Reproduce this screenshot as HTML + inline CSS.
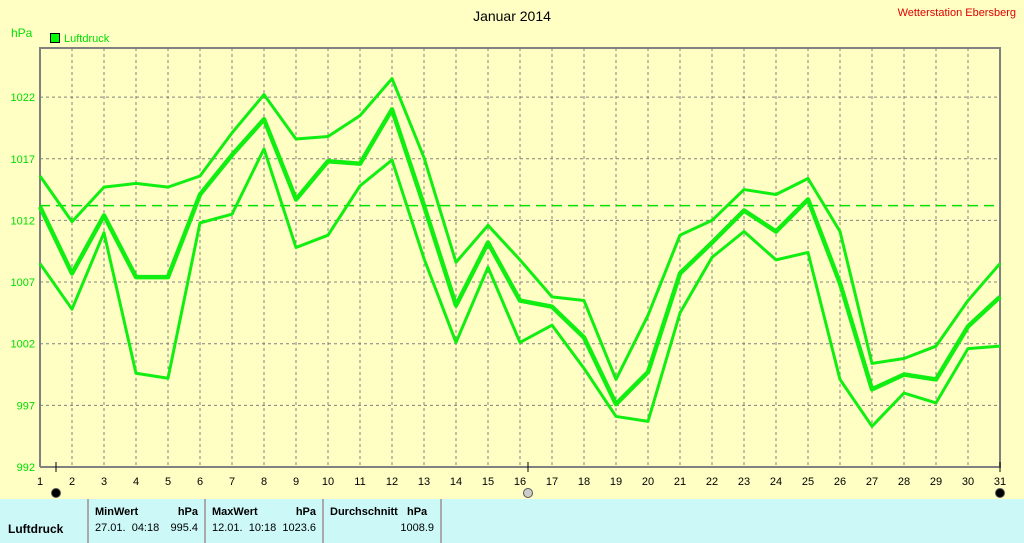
<!DOCTYPE html>
<html><head><meta charset="utf-8"><style>
body{margin:0;width:1024px;height:543px;overflow:hidden;background:#ffffc4;font-family:"Liberation Sans",sans-serif;}
svg{position:absolute;left:0;top:0}
#tbl{position:absolute;left:0;top:499px;width:1024px;height:44px;background:#ccf8f8;font-size:11px;}
.cell{position:absolute;top:0;height:44px;border-right:2px solid #aaa;}
.b{font-weight:bold}
</style></head><body>
<svg id="chart" width="1024" height="499"></svg>
<div id="tbl">
 <div class="cell" style="left:0;width:87px"><div class="b" style="position:absolute;left:8px;top:23px;font-size:12px">Luftdruck</div></div>
 <div class="cell" style="left:89px;width:115px"><div class="b" style="position:absolute;left:6px;top:7px">MinWert</div><div class="b" style="position:absolute;right:6px;top:7px">hPa</div><div style="position:absolute;left:6px;top:23px">27.01.&nbsp; 04:18</div><div style="position:absolute;right:6px;top:23px">995.4</div></div>
 <div class="cell" style="left:206px;width:116px"><div class="b" style="position:absolute;left:6px;top:7px">MaxWert</div><div class="b" style="position:absolute;right:6px;top:7px">hPa</div><div style="position:absolute;left:6px;top:23px">12.01.&nbsp; 10:18</div><div style="position:absolute;right:6px;top:23px">1023.6</div></div>
 <div class="cell" style="left:324px;width:116px"><div class="b" style="position:absolute;left:6px;top:7px">Durchschnitt&nbsp;&nbsp; hPa</div><div style="position:absolute;right:6px;top:23px">1008.9</div></div>
</div>
<script>
const days=[1,2,3,4,5,6,7,8,9,10,11,12,13,14,15,16,17,18,19,20,21,22,23,24,25,26,27,28,29,30,31];
const maxVals=[1015.6,1011.9,1014.7,1015.0,1014.7,1015.6,1019.1,1022.2,1018.6,1018.8,1020.5,1023.5,1017.1,1008.6,1011.6,1008.8,1005.8,1005.5,999.1,1004.3,1010.8,1012.0,1014.5,1014.1,1015.4,1011.1,1000.4,1000.8,1001.8,1005.5,1008.5];
const avgVals=[1013.1,1007.7,1012.4,1007.4,1007.4,1014.1,1017.3,1020.2,1013.7,1016.8,1016.6,1021.0,1013.2,1005.1,1010.2,1005.5,1005.0,1002.5,997.1,999.7,1007.7,1010.2,1012.8,1011.1,1013.7,1006.9,998.3,999.5,999.1,1003.4,1005.8];
const minVals=[1008.5,1004.8,1011.0,999.6,999.2,1011.8,1012.5,1017.8,1009.8,1010.8,1014.8,1016.9,1008.9,1002.1,1008.2,1002.1,1003.5,1000.0,996.1,995.7,1004.5,1009.0,1011.1,1008.8,1009.4,999.1,995.3,998.0,997.2,1001.6,1001.8];
const yTicks=[992,997,1002,1007,1012,1017,1022];
const refLine=1013.2;
const svg=document.getElementById('chart');
const NS='http://www.w3.org/2000/svg';
const X=d=>40+(d-1)*32;
const Y=v=>467-(v-992)*12.33;
function el(t,a){const e=document.createElementNS(NS,t);for(const k in a)e.setAttribute(k,a[k]);svg.appendChild(e);return e;}
let e;
e=el('text',{x:512,y:21,'font-size':14,'text-anchor':'middle',fill:'#000'});e.textContent='Januar 2014';

e=el('text',{x:1016,y:16,'font-size':11,'text-anchor':'end',fill:'#e00000'});e.textContent='Wetterstation Ebersberg';

e=el('text',{x:11,y:37,'font-size':12,fill:'#00dd00'});e.textContent='hPa';

e=el('rect',{x:50.5,y:33.5,width:9,height:9,fill:'#00ff00',stroke:'#000'});

e=el('text',{x:64,y:42,'font-size':11,fill:'#00dd00'});e.textContent='Luftdruck';

yTicks.forEach(v=>{if(v>992){e=el('line',{x1:40,x2:1000,y1:Y(v),y2:Y(v),stroke:'#808080','stroke-dasharray':'3,3'});}
 e=el('text',{x:35,y:Y(v)+4,'font-size':11,'text-anchor':'end',fill:'#00dd00'});e.textContent=v;
 });
days.forEach(d=>{if(d>1&&d<31){e=el('line',{x1:X(d),x2:X(d),y1:48,y2:467,stroke:'#808080','stroke-dasharray':'3,3'});}
 e=el('text',{x:X(d),y:485,'font-size':11,'text-anchor':'middle',fill:'#000'});e.textContent=d;
 });
e=el('path',{d:'M40,467 V48 H1000 V467 H40',fill:'none',stroke:'#808080','stroke-width':2});

e=el('line',{x1:40,x2:1000,y1:Y(refLine),y2:Y(refLine),stroke:'#00dd00','stroke-width':1.5,'stroke-dasharray':'10,6'});

[[maxVals,3,'max-line'],[minVals,3,'min-line'],[avgVals,4.5,'avg-line']].forEach(([vals,w,n])=>{
 e=el('polyline',{points:vals.map((v,i)=>X(days[i])+','+Y(v)).join(' '),fill:'none',stroke:'#11ee11','stroke-width':w,'stroke-linejoin':'round'});
 });
[[56,'#000','marker-start'],[528,'#ccc','marker-mid'],[1000,'#000','marker-end']].forEach(([x,c,n])=>{
 e=el('line',{x1:x,x2:x,y1:462,y2:472,stroke:'#000'});
 
 e=el('circle',{cx:x,cy:493,r:4.5,fill:c,stroke:'#555'});
 });
</script>
</body></html>
